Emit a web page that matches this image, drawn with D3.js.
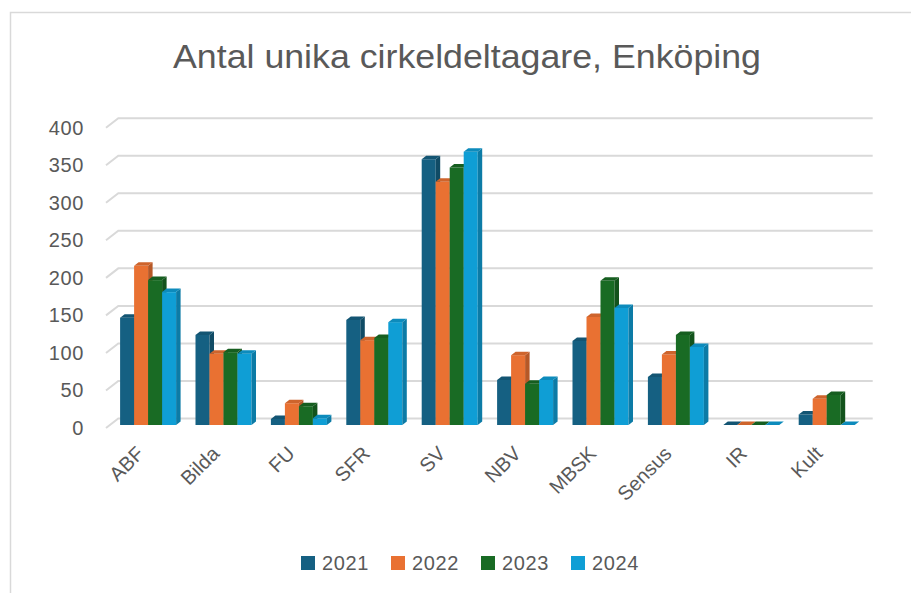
<!DOCTYPE html>
<html>
<head>
<meta charset="utf-8">
<script src="https://cdn.jsdelivr.net/npm/d3@7"></script>
<style>
  body { margin: 0; background: #fff; }
  svg { display: block; font-family: "Liberation Sans", Arial, sans-serif; }
</style>
</head>
<body>
<div id="chart"></div>
<script>
// data
var categories = ["ABF", "Bilda", "FU", "SFR", "SV", "NBV", "MBSK", "Sensus", "IR", "Kult"];
var years = ["2021", "2022", "2023", "2024"];
var v2021 = [143, 120, 8, 140, 354, 60, 112, 64, 0, 14];
var v2022 = [212, 95, 29, 113, 324, 93, 144, 94, 0, 35];
var v2023 = [193, 97, 25, 116, 343, 55, 192, 120, 0, 40];
var v2024 = [177, 95, 9, 137, 364, 60, 156, 104, 0, 0];
var yTicks = [0, 50, 100, 150, 200, 250, 300, 350, 400];
var colors = ["#156082", "#E97132", "#196B24", "#0F9ED5"];

var series = [v2021, v2022, v2023, v2024];

var width = 911, height = 593;
var svg = d3.select("#chart").append("svg")
    .attr("width", width)
    .attr("height", height);

// chart border (runs off the right and bottom edge)
svg.append("rect")
    .attr("x", 10.5).attr("y", 12.5)
    .attr("width", 960).attr("height", 640)
    .attr("fill", "#fff")
    .attr("stroke", "#d9d9d9")
    .attr("stroke-width", 1.5);

// title
svg.append("text")
    .attr("x", 467).attr("y", 68)
    .attr("text-anchor", "middle")
    .attr("textLength", 588)
    .attr("lengthAdjust", "spacingAndGlyphs")
    .style("font-size", "34px")
    .style("fill", "#595959")
    .text("Antal unika cirkeldeltagare, Enköping");

// 3d-ish geometry: front plane, back wall offset
var wallDx = 12.3, wallDy = -9.5;
var barDx = 3.9, barDy = -3;     // bar front face sits slightly in depth
var topDx = 4.5, topDy = -3.5;   // bar depth

var y = d3.scaleLinear().domain([0, 400]).range([428, 127.7]);
var x = d3.scaleBand().domain(categories).range([106.5, 860.5]);
var clusterW = 56;
var xs = d3.scaleBand().domain(years)
    .range([(x.bandwidth() - clusterW) / 2, (x.bandwidth() + clusterW) / 2]);

// gridlines on side wall + back wall
var grid = svg.append("g");
yTicks.forEach(function(t) {
    var yf = y(t);
    grid.append("polyline")
        .attr("points", [[106, yf], [106 + wallDx, yf + wallDy], [872.7, yf + wallDy]].join(" "))
        .attr("fill", "none")
        .attr("stroke", "#d9d9d9")
        .attr("stroke-width", 2);
});

// y tick labels
svg.append("g").selectAll("text")
    .data(yTicks)
    .enter().append("text")
    .attr("x", 84)
    .attr("y", function(d) { return y(d); })
    .attr("dy", "0.35em")
    .attr("text-anchor", "end")
    .style("font-size", "20px")
    .style("letter-spacing", "0.6px")
    .style("fill", "#595959")
    .text(function(d) { return d; });

// bars, drawn left to right so each front face covers the previous side face
var bars = svg.append("g");
var y0 = y(0) + barDy;
categories.forEach(function(c, ci) {
    years.forEach(function(yr, si) {
        var v = series[si][ci];
        var xf = x(c) + xs(yr) + barDx;
        var w = xs.bandwidth();
        var yv = y(v) + barDy;
        var col = d3.color(colors[si]);
        var g = bars.append("g");
        // front
        g.append("rect")
            .attr("x", xf).attr("y", yv)
            .attr("width", w).attr("height", Math.max(0, y0 - yv))
            .attr("fill", col.formatHex());
        // side
        g.append("polygon")
            .attr("points", [[xf + w, yv], [xf + w + topDx, yv + topDy], [xf + w + topDx, y0 + topDy], [xf + w, y0]].join(" "))
            .attr("fill", col.darker(0.7).formatHex());
        // top
        g.append("polygon")
            .attr("points", [[xf, yv], [xf + topDx, yv + topDy], [xf + w + topDx, yv + topDy], [xf + w, yv]].join(" "))
            .attr("fill", col.darker(0.35).formatHex());
    });
});

// x labels, rotated
svg.append("g").selectAll("text")
    .data(categories)
    .enter().append("text")
    .attr("transform", function(d) {
        return "translate(" + (x(d) + x.bandwidth() / 2 - 9) + ",445) rotate(-45)";
    })
    .attr("text-anchor", "end")
    .attr("dy", "0.7em")
    .style("font-size", "20px")
    .style("fill", "#595959")
    .text(function(d) { return d; });

// legend
var legend = svg.append("g").selectAll("g")
    .data(years)
    .enter().append("g")
    .attr("transform", function(d, i) { return "translate(" + (301 + i * 90) + ",556)"; });
legend.append("rect")
    .attr("width", 14).attr("height", 14)
    .attr("fill", function(d, i) { return colors[i]; });
legend.append("text")
    .attr("x", 21).attr("y", 13.5)
    .style("font-size", "20px")
    .style("letter-spacing", "0.6px")
    .style("fill", "#595959")
    .text(function(d) { return d; });
</script>
</body>
</html>
